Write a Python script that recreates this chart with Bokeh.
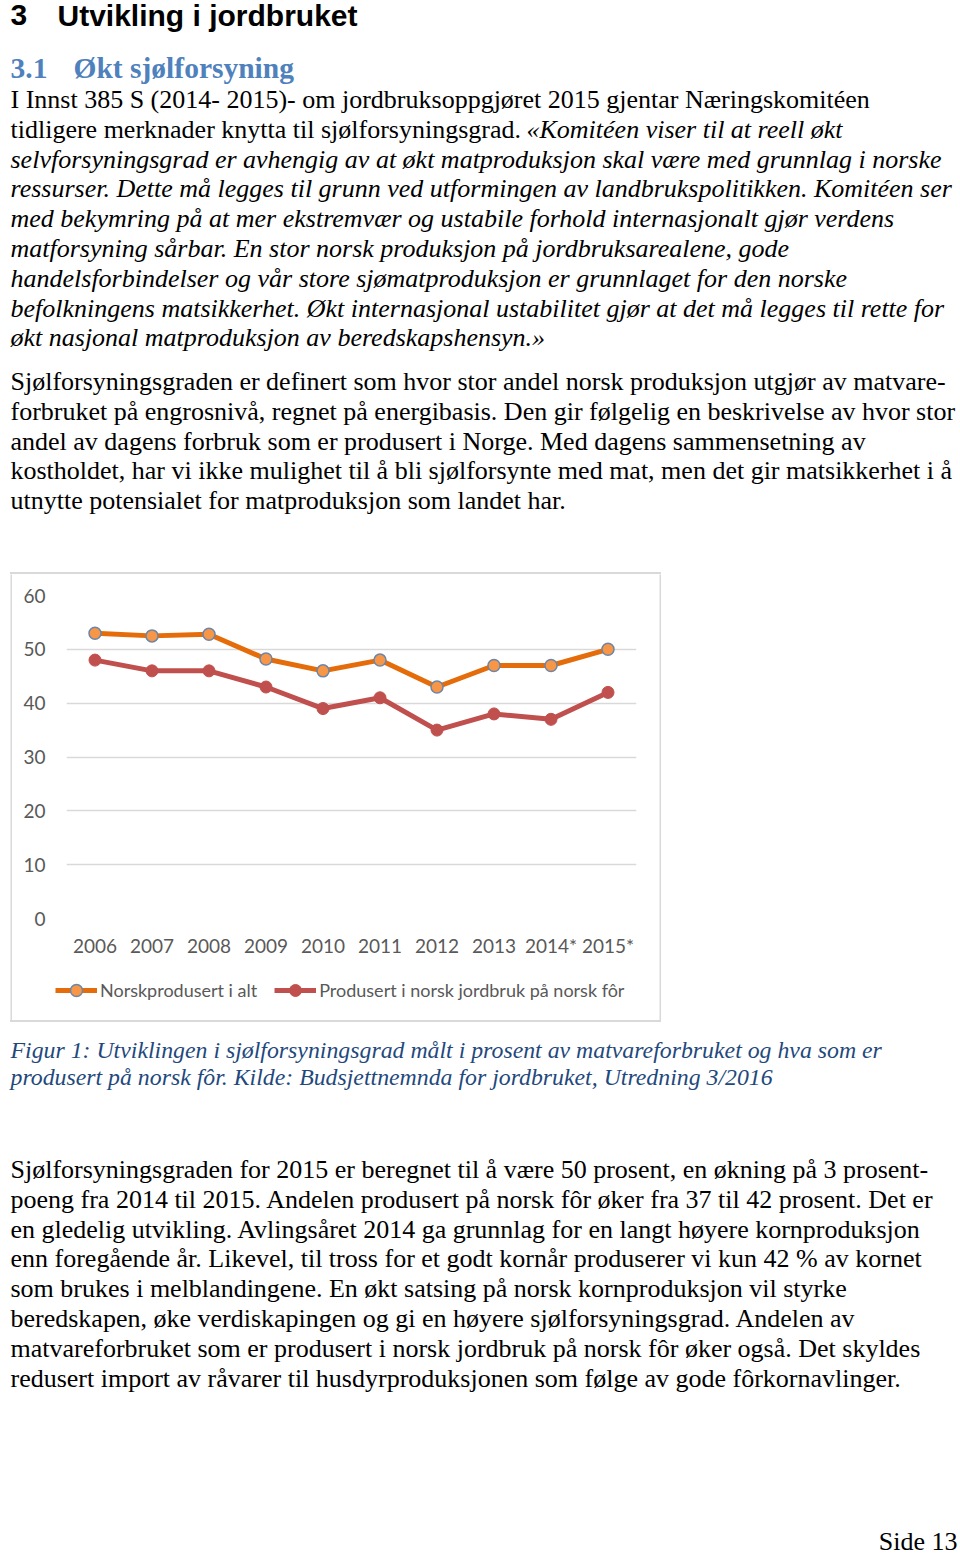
from bokeh.plotting import figure
from bokeh.models import (ColumnDataSource, Range1d, FactorRange, FixedTicker, Legend,
                          LegendItem, Spacer)
from bokeh.layouts import column, row
from bokeh.core.properties import value
from bokeh.embed import file_html
from bokeh.resources import INLINE

# ---------------- data ----------------
years = ["2006", "2007", "2008", "2009", "2010", "2011", "2012", "2013", "2014*", "2015*"]
norskprodusert = [53.0, 52.5, 52.8, 48.2, 46.0, 48.0, 43.0, 47.0, 47.0, 50.0]
norsk_for = [48.0, 46.0, 46.0, 43.0, 39.0, 41.0, 35.0, 38.0, 37.0, 42.0]
y_ticks = [0, 10, 20, 30, 40, 50, 60]
series_names = ["Norskprodusert i alt", "Produsert i norsk jordbruk på norsk fôr"]

heading_num = "3"
heading = "Utvikling i jordbruket"
sub_num = "3.1"
sub_heading = "Økt sjølforsyning"

p1_line1 = "I Innst 385 S (2014- 2015)- om jordbruksoppgjøret 2015 gjentar Næringskomitéen"
p1_line2_normal = "tidligere merknader knytta til sjølforsyningsgrad."
p1_line2_italic = "«Komitéen viser til at reell økt"
p1_italic_lines = [
    "selvforsyningsgrad er avhengig av at økt matproduksjon skal være med grunnlag i norske",
    "ressurser. Dette må legges til grunn ved utformingen av landbrukspolitikken. Komitéen ser",
    "med bekymring på at mer ekstremvær og ustabile forhold internasjonalt gjør verdens",
    "matforsyning sårbar. En stor norsk produksjon på jordbruksarealene, gode",
    "handelsforbindelser og vår store sjømatproduksjon er grunnlaget for den norske",
    "befolkningens matsikkerhet. Økt internasjonal ustabilitet gjør at det må legges til rette for",
    "økt nasjonal matproduksjon av beredskapshensyn.»",
]
p2_lines = [
    "Sjølforsyningsgraden er definert som hvor stor andel norsk produksjon utgjør av matvare-",
    "forbruket på engrosnivå, regnet på energibasis. Den gir følgelig en beskrivelse av hvor stor",
    "andel av dagens forbruk som er produsert i Norge. Med dagens sammensetning av",
    "kostholdet, har vi ikke mulighet til å bli sjølforsynte med mat, men det gir matsikkerhet i å",
    "utnytte potensialet for matproduksjon som landet har.",
]
caption_lines = [
    "Figur 1: Utviklingen i sjølforsyningsgrad målt i prosent av matvareforbruket og hva som er",
    "produsert på norsk fôr. Kilde: Budsjettnemnda for jordbruket, Utredning 3/2016",
]
p3_lines = [
    "Sjølforsyningsgraden for 2015 er beregnet til å være 50 prosent, en økning på 3 prosent-",
    "poeng fra 2014 til 2015. Andelen produsert på norsk fôr øker fra 37 til 42 prosent. Det er",
    "en gledelig utvikling. Avlingsåret 2014 ga grunnlag for en langt høyere kornproduksjon",
    "enn foregående år. Likevel, til tross for et godt kornår produserer vi kun 42 % av kornet",
    "som brukes i melblandingene. En økt satsing på norsk kornproduksjon vil styrke",
    "beredskapen, øke verdiskapingen og gi en høyere sjølforsyningsgrad. Andelen av",
    "matvareforbruket som er produsert i norsk jordbruk på norsk fôr øker også. Det skyldes",
    "redusert import av råvarer til husdyrproduksjonen som følge av gode fôrkornavlinger.",
]
page_label = "Side 13"

SERIF = value("Liberation Serif")
SANS = value("Liberation Sans")
BODY_SIZE = "26px"
PITCH = 29.8
PAGE_W = 960
BORDER = "#D9D9D9"
ORANGE, ORANGE_FILL, MARK_EDGE, RED = "#E46C0A", "#F79646", "#6C86A8", "#C0504D"


def page_fig(w, h, y_top, y_bottom):
    f = figure(width=w, height=h, x_range=Range1d(0, w), y_range=Range1d(y_bottom, y_top),
               output_backend="svg", toolbar_location=None, x_axis_type=None, y_axis_type=None,
               min_border=0, outline_line_color=None, title=None)
    f.xgrid.visible = False
    f.ygrid.visible = False
    f.frame_align = False
    return f


def bar_fig(w, h):
    f = figure(width=w, height=h, output_backend="svg", toolbar_location=None,
               x_axis_type=None, y_axis_type=None, min_border=0, outline_line_color=None,
               background_fill_color=BORDER, border_fill_color=BORDER, title=None)
    f.xgrid.visible = False
    f.ygrid.visible = False
    f.frame_align = False
    return f


def hbar(w, h):
    return Spacer(width=w, height=h, styles={"background-color": BORDER})


def put(f, xs, ys, texts, size=BODY_SIZE, style="normal", color="#000000", font=SERIF, align="left"):
    src = ColumnDataSource(dict(x=xs, y=ys, t=texts))
    f.text(x="x", y="y", text="t", source=src, text_font=font, text_font_size=size,
           text_font_style=style, text_color=color, text_baseline="alphabetic", text_align=align)


# ---------------- top text ----------------
TOP_H = 572
top = page_fig(PAGE_W, TOP_H, 0, TOP_H)
put(top, [10, 57], [14.5, 14.5], [heading_num, heading], size="30px", style="bold", font=SANS)
put(top, [10, 73], [67.5, 67.5], [sub_num, sub_heading], size="29.5px", style="bold", color="#4F81BD")
b1 = 99
put(top, [10, 10], [b1, b1 + PITCH], [p1_line1, p1_line2_normal])
put(top, [526], [b1 + PITCH], [p1_line2_italic], style="italic")
put(top, [10] * len(p1_italic_lines), [b1 + PITCH * (i + 2) for i in range(len(p1_italic_lines))],
    p1_italic_lines, style="italic")
b2 = 381
put(top, [10] * len(p2_lines), [b2 + PITCH * i for i in range(len(p2_lines))], p2_lines)

# ---------------- chart ----------------
CW, CH = 651, 450
IW, IH = CW - 4, CH - 4
H1 = 386
chart = figure(width=IW, height=H1, x_range=FactorRange(factors=years, range_padding=0),
               y_range=Range1d(0, 60), output_backend="svg", toolbar_location=None,
               min_border_left=54, min_border_right=23, min_border_top=21,
               min_border_bottom=H1 - 344, outline_line_color=None)
chart.frame_align = False
chart.xgrid.visible = False
chart.ygrid.grid_line_color = "#D9D9D9"
chart.ygrid.grid_line_width = 1.5
chart.yaxis.ticker = FixedTicker(ticks=y_ticks)
for ax in (chart.xaxis[0], chart.yaxis[0]):
    ax.axis_line_color = None
    ax.major_tick_line_color = None
    ax.minor_tick_line_color = None
    ax.major_label_text_font = "Lato"
    ax.major_label_text_font_size = "19px"
    ax.major_label_text_color = "#595959"
chart.yaxis.major_label_standoff = 15
chart.xaxis.major_label_standoff = 9


def draw_series(f):
    a = f.line(years, norskprodusert, line_color=ORANGE, line_width=5)
    b = f.scatter(years, norskprodusert, size=12, fill_color=ORANGE_FILL,
                  line_color=MARK_EDGE, line_width=1.5)
    c = f.line(years, norsk_for, line_color=RED, line_width=5)
    d = f.scatter(years, norsk_for, size=12, fill_color=RED, line_color=RED)
    return a, b, c, d


draw_series(chart)

# legend strip (its own copies of the series lie outside its visible range)
H2 = IH - H1
strip = figure(width=IW, height=H2, x_range=FactorRange(factors=years, range_padding=0),
               y_range=Range1d(100, 200), output_backend="svg", toolbar_location=None,
               x_axis_type=None, y_axis_type=None, min_border=0, outline_line_color=None,
               title=None)
strip.frame_align = False
strip.xgrid.visible = False
strip.ygrid.visible = False
s1, s2, s3, s4 = draw_series(strip)
legend = Legend(items=[LegendItem(label=series_names[0], renderers=[s1, s2]),
                       LegendItem(label=series_names[1], renderers=[s3, s4])],
                orientation="horizontal", location=(43, (H2 - 30) / 2), padding=0, margin=0,
                spacing=17, glyph_width=42, glyph_height=30, label_standoff=3,
                label_text_font="Lato", label_text_font_size="18px",
                label_text_color="#595959", border_line_color=None,
                background_fill_alpha=0)
strip.add_layout(legend)

chart_block = column(hbar(CW, 2),
                     row(bar_fig(2, IH), column(chart, strip), bar_fig(2, IH)),
                     hbar(CW, 2))

# ---------------- bottom text ----------------
BOT_TOP = TOP_H + CH
BOT_H = 1552 - BOT_TOP
bottom = page_fig(PAGE_W, BOT_H, BOT_TOP, 1552)
put(bottom, [10, 10], [1049, 1076], caption_lines, size="23.8px", style="italic", color="#1F497D")
b3 = 1169
put(bottom, [10] * len(p3_lines), [b3 + PITCH * i for i in range(len(p3_lines))], p3_lines)
put(bottom, [957], [1541], [page_label], align="right")

page = column(top, row(Spacer(width=10, height=CH), chart_block), bottom)
open("out.html", "w").write(file_html(page, INLINE))
